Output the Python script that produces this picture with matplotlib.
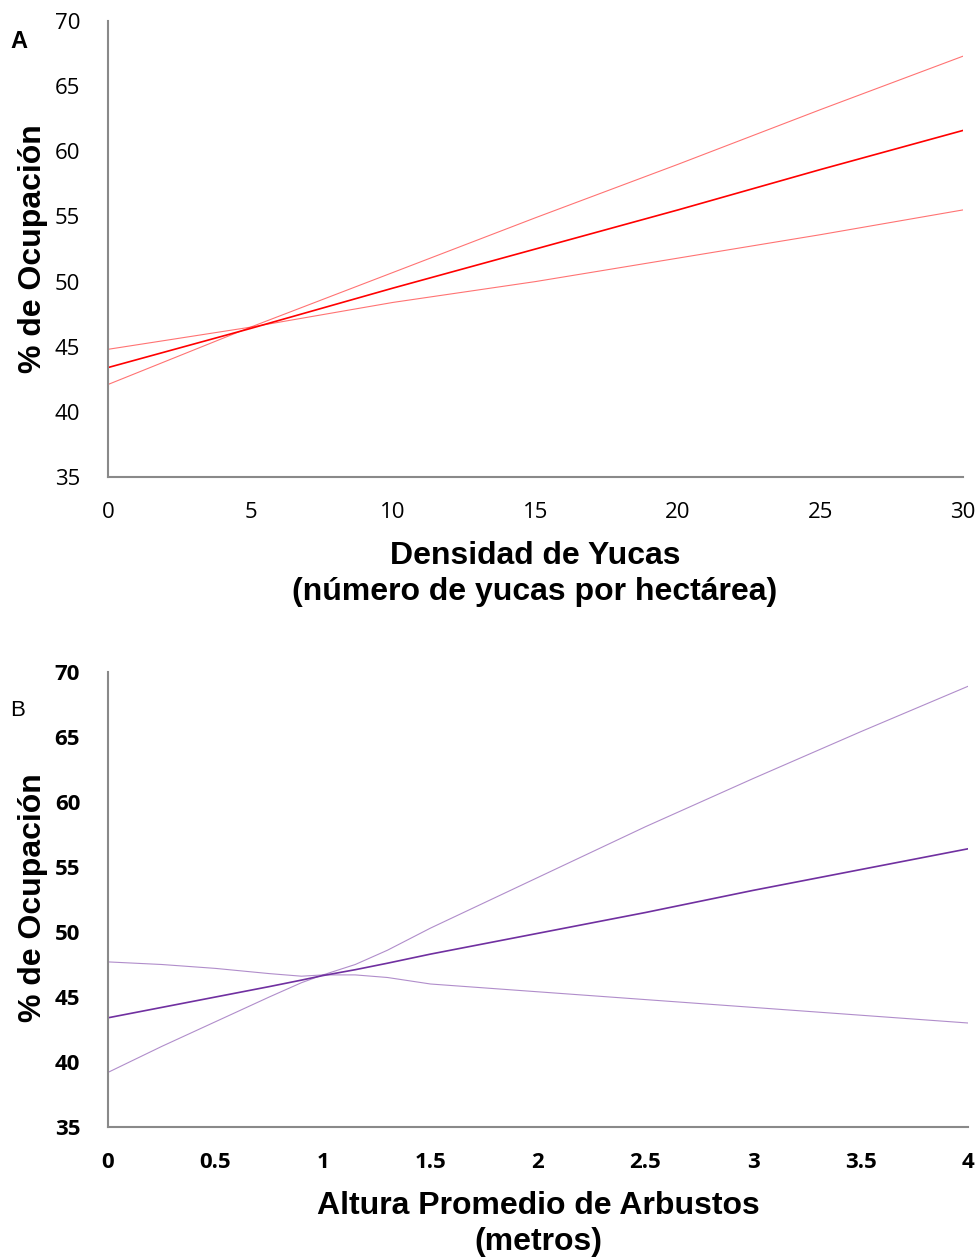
import matplotlib
matplotlib.use("Agg")
import matplotlib.pyplot as plt
import numpy as np

# Panel A data
xa = [0, 5, 10, 15, 20, 25, 30]
a_mean = [43.4, 46.4, 49.5, 52.5, 55.5, 58.6, 61.6]
a_upper = [42.1, 46.5, 50.7, 54.9, 59.0, 63.2, 67.3]
a_lower = [44.8, 46.5, 48.4, 50.0, 51.8, 53.6, 55.5]
xa_ticks = [0, 5, 10, 15, 20, 25, 30]
ya_ticks = [35, 40, 45, 50, 55, 60, 65, 70]

# Panel B data
xb = [0, 0.25, 0.5, 0.75, 0.9, 1, 1.15, 1.3, 1.5, 2, 2.5, 3, 3.5, 4]
b_mean = [43.4, 44.2, 45.0, 45.8, 46.3, 46.65, 47.1, 47.6, 48.3, 49.9, 51.5, 53.2, 54.8, 56.4]
b_upper = [39.2, 41.2, 43.1, 45.0, 46.1, 46.7, 47.5, 48.6, 50.3, 54.2, 58.1, 61.8, 65.4, 68.9]
b_lower = [47.7, 47.5, 47.2, 46.8, 46.6, 46.7, 46.7, 46.5, 46.0, 45.4, 44.8, 44.2, 43.6, 43.0]
xb_ticks = [0, 0.5, 1, 1.5, 2, 2.5, 3, 3.5, 4]
xb_labels = ["0", "0.5", "1", "1.5", "2", "2.5", "3", "3.5", "4"]
yb_ticks = [35, 40, 45, 50, 55, 60, 65, 70]

W, H = 980, 1259
fig = plt.figure(figsize=(W / 100, H / 100), dpi=100)

def box(l, t, r, b):
    return [l / W, 1 - b / H, (r - l) / W, (b - t) / H]

tick_font = "Open Sans"
lab_font = "Liberation Sans"

def style(ax, bold):
    for s in ["top", "right"]:
        ax.spines[s].set_visible(False)
    for s in ["left", "bottom"]:
        ax.spines[s].set_color("#898989")
        ax.spines[s].set_linewidth(1.5)
    ax.tick_params(length=0, labelsize=16)
    ax.tick_params(axis="x", pad=18)
    ax.tick_params(axis="y", pad=20)
    for lbl in ax.get_xticklabels() + ax.get_yticklabels():
        lbl.set_fontfamily(tick_font)
        lbl.set_fontweight("bold" if bold else "normal")

# Panel A
axA = fig.add_axes(box(108, 21, 963, 477))
axA.plot(xa, a_upper, color="#FF0000", lw=0.8, alpha=0.55)
axA.plot(xa, a_lower, color="#FF0000", lw=0.8, alpha=0.55)
axA.plot(xa, a_mean, color="#FF0000", lw=1.2)
axA.set_xlim(0, 30)
axA.set_ylim(35, 70)
axA.set_xticks(xa_ticks)
axA.set_yticks(ya_ticks)
style(axA, False)
fig.text(33 / W, 1 - 249 / H, "% de Ocupación", fontsize=23, fontweight="bold",
         family=lab_font, rotation=90, ha="center", va="center")
fig.text(535 / W, 1 - 574 / H, "Densidad de Yucas\n(número de yucas por hectárea)",
         fontsize=23, fontweight="bold", family=lab_font, ha="center", va="center",
         linespacing=1.28)
fig.text(19 / W, 1 - 41 / H, "A", fontsize=17, fontweight="bold", family=lab_font,
         ha="center", va="center")

# Panel B
axB = fig.add_axes(box(108, 672, 968, 1127))
axB.plot(xb, b_upper, color="#7030A0", lw=0.8, alpha=0.55)
axB.plot(xb, b_lower, color="#7030A0", lw=0.8, alpha=0.55)
axB.plot(xb, b_mean, color="#7030A0", lw=1.2)
axB.set_xlim(0, 4)
axB.set_ylim(35, 70)
axB.set_xticks(xb_ticks)
axB.set_xticklabels(xb_labels)
axB.set_yticks(yb_ticks)
style(axB, True)
fig.text(33 / W, 1 - 898 / H, "% de Ocupación", fontsize=23, fontweight="bold",
         family=lab_font, rotation=90, ha="center", va="center")
fig.text(538 / W, 1 - 1224 / H, "Altura Promedio de Arbustos\n(metros)",
         fontsize=23, fontweight="bold", family=lab_font, ha="center", va="center",
         linespacing=1.26)
fig.text(18 / W, 1 - 710 / H, "B", fontsize=16, family=lab_font, ha="center", va="center")

fig.savefig("out.png", dpi=100)
